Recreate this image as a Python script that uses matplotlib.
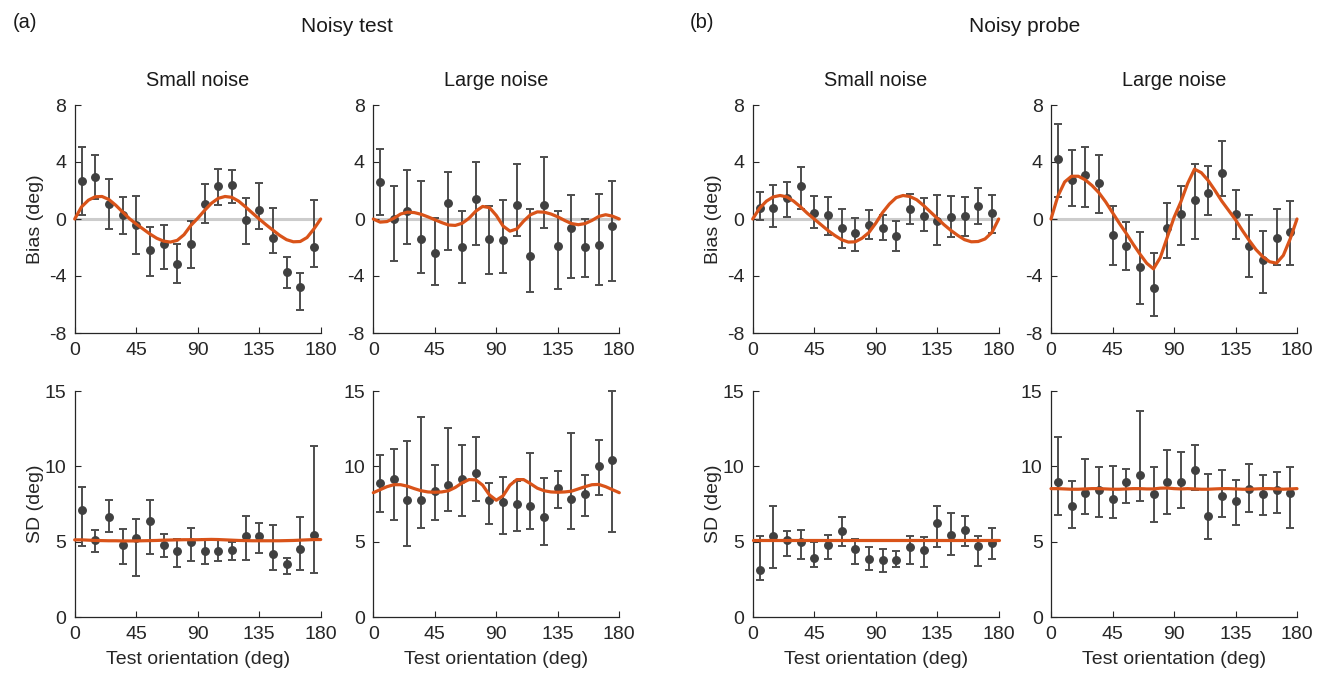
import numpy as np
import matplotlib
matplotlib.use("Agg")
import matplotlib.pyplot as plt

plt.rcParams['font.family'] = ['Liberation Sans', 'DejaVu Sans']
plt.rcParams['axes.unicode_minus'] = False

# bin centres of the data points and sampling of the fitted curves
orient = [5, 15, 25, 35, 45, 55, 65, 75, 85, 95, 105, 115, 125, 135, 145, 155, 165, 175]
curve_x = list(range(0, 181, 5))

# ---- (a) noisy test, small noise ----
bias_a_small = [2.66, 2.92, 1.04, 0.29, -0.39, -2.19, -1.72, -3.17, -1.72, 1.07, 2.35, 2.38, -0.06, 0.62, -1.30, -3.71, -4.77, -1.93]
bias_a_small_lo = [0.27, 1.37, -0.67, -1.02, -2.43, -4.02, -3.48, -4.46, -3.43, -0.27, 1.00, 1.09, -1.75, -0.69, -2.38, -4.84, -6.36, -3.36]
bias_a_small_hi = [5.07, 4.46, 2.78, 1.53, 1.60, -0.57, -0.43, -1.72, -0.13, 2.45, 3.48, 3.43, 1.44, 2.54, 0.76, -2.68, -3.76, 1.32]
fit_bias_a_small = [0.0, 0.85, 1.32, 1.56, 1.58, 1.37, 0.97, 0.50, 0.03, -0.35, -0.70, -1.05, -1.35, -1.55, -1.62, -1.50, -1.10, -0.45, 0.05,
                    0.60, 1.10, 1.45, 1.58, 1.52, 1.25, 0.85, 0.42, 0.0, -0.40, -0.78, -1.15, -1.45, -1.60, -1.58, -1.30, -0.70, 0.0]

sd_a_small = [7.12, 5.09, 6.64, 4.78, 5.24, 6.39, 4.76, 4.38, 4.98, 4.36, 4.40, 4.45, 5.38, 5.38, 4.18, 3.50, 4.54, 5.44]
sd_a_small_lo = [4.69, 4.31, 5.62, 3.54, 2.72, 4.20, 3.98, 3.32, 3.72, 3.50, 3.72, 3.76, 3.78, 4.25, 3.12, 2.88, 3.14, 2.92]
sd_a_small_hi = [8.63, 5.77, 7.79, 5.82, 6.50, 7.79, 5.51, 5.15, 5.91, 5.18, 5.13, 4.98, 6.70, 6.24, 6.11, 3.92, 6.64, 11.35]
fit_sd_a_small = [5.12, 5.12, 5.10, 5.08, 5.07, 5.06, 5.06, 5.05, 5.05, 5.05, 5.06, 5.07, 5.08, 5.10, 5.11, 5.12, 5.13, 5.13, 5.13,
                  5.14, 5.15, 5.14, 5.12, 5.10, 5.08, 5.07, 5.06, 5.06, 5.06, 5.06, 5.06, 5.07, 5.08, 5.10, 5.12, 5.14, 5.14]

# ---- (a) noisy test, large noise ----
bias_a_large = [2.57, -0.01, 0.57, -1.39, -2.42, 1.09, -1.98, 1.37, -1.37, -1.44, 0.95, -2.59, 1.00, -1.91, -0.64, -1.98, -1.79, -0.48]
bias_a_large_lo = [0.27, -2.94, -1.75, -3.78, -4.63, -2.19, -4.46, -1.84, -3.85, -3.78, -1.18, -5.12, -0.62, -4.91, -4.13, -4.06, -4.60, -4.34]
bias_a_large_hi = [4.93, 2.33, 3.43, 2.68, 0.08, 3.31, 0.57, 4.02, 0.90, 1.35, 3.88, 0.67, 4.32, 0.57, 1.67, -0.01, 1.72, 2.68]
fit_bias_a_large = [0.0, -0.22, -0.18, 0.05, 0.35, 0.48, 0.45, 0.33, 0.15, -0.05, -0.25, -0.42, -0.45, -0.30, 0.05, 0.55, 0.88, 0.80, 0.25,
                    -0.50, -0.85, -0.70, -0.15, 0.30, 0.50, 0.48, 0.35, 0.15, -0.10, -0.32, -0.40, -0.32, -0.10, 0.18, 0.30, 0.20, 0.0]

sd_a_large = [8.89, 9.16, 7.74, 7.77, 8.38, 8.78, 9.16, 9.58, 7.74, 7.63, 7.50, 7.39, 6.64, 8.54, 7.83, 8.14, 10.04, 10.40]
sd_a_large_lo = [6.97, 6.44, 4.71, 5.91, 6.44, 7.04, 6.70, 7.70, 6.15, 5.51, 5.73, 5.82, 4.80, 7.26, 5.86, 6.70, 8.10, 5.66]
sd_a_large_hi = [10.77, 11.13, 11.68, 13.25, 10.07, 12.54, 11.42, 11.95, 8.89, 9.29, 9.00, 10.88, 9.20, 9.69, 12.23, 9.42, 11.77, 15.0]
fit_sd_a_large = [8.25, 8.45, 8.65, 8.78, 8.78, 8.68, 8.52, 8.38, 8.30, 8.28, 8.30, 8.38, 8.60, 8.90, 9.12, 9.10, 8.75, 8.10, 7.75,
                  8.05, 8.75, 9.12, 9.12, 8.85, 8.55, 8.38, 8.30, 8.28, 8.30, 8.35, 8.50, 8.65, 8.78, 8.80, 8.65, 8.45, 8.25]

# ---- (b) noisy probe, small noise ----
bias_b_small = [0.76, 0.74, 1.44, 2.33, 0.39, 0.29, -0.60, -0.97, -0.43, -0.62, -1.16, 0.72, 0.22, -0.11, 0.11, 0.20, 0.90, 0.41]
bias_b_small_lo = [-0.08, -0.53, 0.11, 0.71, -0.62, -1.14, -2.03, -2.26, -1.42, -1.44, -2.26, -0.32, -0.83, -1.79, -1.23, -1.21, -0.32, -0.97]
bias_b_small_hi = [1.91, 2.42, 2.61, 3.67, 1.60, 1.51, 0.67, 0.04, 0.64, 0.27, -0.15, 1.72, 1.49, 1.70, 1.60, 1.56, 2.21, 1.67]
fit_bias_b_small = [0.0, 0.75, 1.25, 1.55, 1.65, 1.55, 1.25, 0.85, 0.40, 0.0, -0.40, -0.80, -1.15, -1.45, -1.62, -1.60, -1.35, -0.95, -0.30,
                    0.45, 1.05, 1.50, 1.65, 1.58, 1.35, 0.95, 0.50, 0.05, -0.40, -0.80, -1.15, -1.45, -1.60, -1.58, -1.40, -0.95, 0.0]

sd_b_small = [3.14, 5.38, 5.09, 4.96, 3.89, 4.80, 5.71, 4.51, 3.85, 3.76, 3.81, 4.65, 4.45, 6.24, 5.46, 5.80, 4.73, 4.93]
sd_b_small_lo = [2.46, 3.27, 4.05, 3.85, 3.30, 3.83, 4.71, 3.50, 3.10, 2.96, 3.32, 3.52, 3.34, 4.65, 4.14, 4.69, 3.38, 3.83]
sd_b_small_hi = [5.38, 7.35, 5.69, 5.77, 4.96, 5.44, 6.64, 5.18, 4.62, 4.51, 4.36, 5.35, 5.31, 7.37, 6.88, 6.70, 5.40, 5.88]
fit_sd_b_small = [5.10, 5.10, 5.10, 5.10, 5.10, 5.10, 5.10, 5.10, 5.10, 5.10, 5.10, 5.10, 5.10, 5.10, 5.10, 5.10, 5.10, 5.10, 5.10,
                  5.10, 5.10, 5.10, 5.10, 5.10, 5.10, 5.10, 5.10, 5.10, 5.10, 5.10, 5.10, 5.10, 5.10, 5.10, 5.10, 5.10, 5.10]

# ---- (b) noisy probe, large noise ----
bias_b_large = [4.20, 2.73, 3.10, 2.52, -1.09, -1.89, -3.36, -4.84, -0.62, 0.32, 1.32, 1.79, 3.20, 0.34, -1.89, -2.89, -1.35, -0.88]
bias_b_large_lo = [1.56, 0.93, 0.83, 0.43, -3.20, -3.60, -5.94, -6.83, -2.71, -1.84, -1.39, 0.25, 1.60, -1.37, -4.09, -5.19, -3.24, -3.20]
bias_b_large_hi = [6.69, 4.84, 5.05, 4.49, 0.90, -0.18, -0.90, -2.40, 1.14, 2.31, 3.85, 3.69, 5.45, 2.07, 0.29, -0.83, 0.71, 1.28]
fit_bias_b_large = [0.0, 1.60, 2.60, 3.00, 3.00, 2.75, 2.35, 1.85, 1.20, 0.45, -0.30, -1.00, -1.75, -2.45, -3.10, -3.50, -2.70, -1.30, 0.10,
                    1.20, 2.50, 3.50, 3.25, 2.70, 2.00, 1.25, 0.60, -0.05, -0.80, -1.50, -2.15, -2.65, -3.00, -3.10, -2.55, -1.40, 0.0]

sd_b_large = [8.94, 7.37, 8.25, 8.41, 7.83, 8.94, 9.45, 8.19, 8.94, 8.98, 9.76, 6.73, 8.01, 7.70, 8.52, 8.19, 8.45, 8.25]
sd_b_large_lo = [6.77, 5.91, 6.86, 6.66, 6.59, 7.57, 7.68, 6.31, 6.84, 7.21, 8.41, 5.15, 6.64, 6.13, 6.99, 6.77, 6.90, 5.91]
sd_b_large_hi = [11.95, 9.03, 10.46, 9.96, 10.00, 9.82, 13.65, 9.96, 11.06, 10.93, 11.39, 9.47, 9.73, 9.12, 10.18, 9.40, 9.60, 9.93]
fit_sd_b_large = [8.52, 8.52, 8.50, 8.48, 8.48, 8.50, 8.52, 8.52, 8.50, 8.48, 8.48, 8.50, 8.52, 8.52, 8.50, 8.50, 8.55, 8.56, 8.52,
                  8.50, 8.52, 8.50, 8.48, 8.48, 8.50, 8.52, 8.52, 8.50, 8.48, 8.48, 8.50, 8.52, 8.52, 8.50, 8.48, 8.50, 8.52]

group_titles = ["Noisy test", "Noisy probe"]
group_labels = ["(a)", "(b)"]
noise_titles = ["Small noise", "Large noise"]

ORANGE = "#D95319"
DOT = "#404040"
AXC = "#262626"
TXT = "#1a1a1a"

fig = plt.figure(figsize=(13.24, 6.73), dpi=100)

lefts = [74.7, 373.3, 752.7, 1051.0]
W, H = 1324.0, 673.0
pw = 246.0

top_panels = [
    (bias_a_small, bias_a_small_lo, bias_a_small_hi, fit_bias_a_small),
    (bias_a_large, bias_a_large_lo, bias_a_large_hi, fit_bias_a_large),
    (bias_b_small, bias_b_small_lo, bias_b_small_hi, fit_bias_b_small),
    (bias_b_large, bias_b_large_lo, bias_b_large_hi, fit_bias_b_large),
]
bot_panels = [
    (sd_a_small, sd_a_small_lo, sd_a_small_hi, fit_sd_a_small),
    (sd_a_large, sd_a_large_lo, sd_a_large_hi, fit_sd_a_large),
    (sd_b_small, sd_b_small_lo, sd_b_small_hi, fit_sd_b_small),
    (sd_b_large, sd_b_large_lo, sd_b_large_hi, fit_sd_b_large),
]


def style(ax):
    for s in ['top', 'right']:
        ax.spines[s].set_visible(False)
    for s in ['left', 'bottom']:
        ax.spines[s].set_color(AXC)
        ax.spines[s].set_linewidth(0.9)
    ax.tick_params(direction='in', length=4, width=0.8, colors=AXC, labelsize=14,
                   labelcolor='#262626')
    ax.tick_params(axis='x', pad=6.5)
    ax.tick_params(axis='y', pad=6)
    ax.set_xlim(0, 180)
    ax.set_xticks([0, 45, 90, 135, 180])


def draw(ax, data, zero_line):
    m, lo, hi, fit = [np.array(d) for d in data]
    if zero_line:
        ax.axhline(0, color='#cccccc', lw=2.2, zorder=1)
    ax.errorbar(orient, m, yerr=[m - lo, hi - m], fmt='o', color=DOT, ms=5.4,
                ecolor='#4d4d4d', elinewidth=1.4, capsize=3.2, capthick=1.4, zorder=2, clip_on=False)
    ax.plot(curve_x, fit, color=ORANGE, lw=2.3, zorder=3, solid_capstyle='round', clip_on=False)


for i in range(4):
    l = lefts[i] / W
    ax = fig.add_axes([l, 1 - 333 / H, pw / W, 228 / H])
    style(ax)
    draw(ax, top_panels[i], True)
    ax.set_ylim(-8, 8)
    ax.set_yticks([-8, -4, 0, 4, 8])
    if i % 2 == 0:
        ax.set_ylabel("Bias (deg)", fontsize=14, color='#262626', va='center')
        ax.yaxis.set_label_coords(-39.5 / pw, 0.5)
    ax.text(0.5, 1 + 25 / 228, noise_titles[i % 2], transform=ax.transAxes,
            ha='center', va='center', fontsize=14.3, color=TXT)

    ax2 = fig.add_axes([l, 1 - 617 / H, pw / W, 226 / H])
    style(ax2)
    draw(ax2, bot_panels[i], False)
    ax2.set_ylim(0, 15)
    ax2.set_yticks([0, 5, 10, 15])
    ax2.set_xlabel("Test orientation (deg)", fontsize=14, color='#262626', va='center')
    ax2.xaxis.set_label_coords(0.5, -43 / 226)
    if i % 2 == 0:
        ax2.set_ylabel("SD (deg)", fontsize=14, color='#262626', va='center')
        ax2.yaxis.set_label_coords(-39.5 / pw, 0.5)

# group titles
for g in range(2):
    x0 = lefts[2 * g] / W
    x1 = (lefts[2 * g + 1] + pw) / W
    fig.text((x0 + x1) / 2, 1 - 26 / H, group_titles[g], ha='center', va='center',
             fontsize=15, color=TXT)
fig.text(13 / W, 1 - 22 / H, group_labels[0], ha='left', va='center', fontsize=14.5, color=TXT)
fig.text(690 / W, 1 - 22 / H, group_labels[1], ha='left', va='center', fontsize=14.5, color=TXT)

fig.savefig("out.png", dpi=100)
